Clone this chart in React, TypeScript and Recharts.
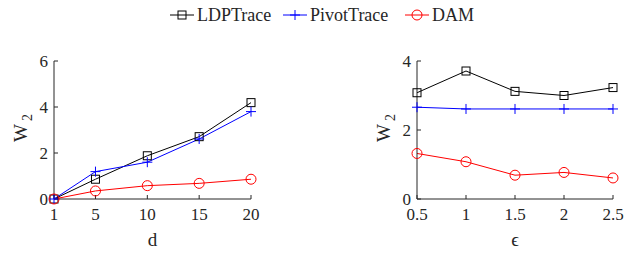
import { LineChart, Line, XAxis, YAxis, Label } from 'recharts'

// left panel: error vs dimension d
const dValues = [1, 5, 10, 15, 20]
const ldpByD = [0, 0.86, 1.88, 2.71, 4.19]
const pivotByD = [0, 1.19, 1.6, 2.61, 3.8]
const damByD = [0, 0.35, 0.58, 0.68, 0.86]

// right panel: error vs privacy budget epsilon
const epsValues = [0.5, 1, 1.5, 2, 2.5]
const ldpByEps = [3.08, 3.71, 3.12, 3.0, 3.23]
const pivotByEps = [2.66, 2.61, 2.61, 2.61, 2.61]
const damByEps = [1.32, 1.08, 0.69, 0.77, 0.61]

const seriesNames = ['LDPTrace', 'PivotTrace', 'DAM']

const FONT = "'Liberation Serif', 'Times New Roman', Times, serif"
const AXIS = '#262626'
const COLORS = { LDPTrace: '#000000', PivotTrace: '#0000ff', DAM: '#ff0000' }

const dData = dValues.map((x, i) => ({ x, LDPTrace: ldpByD[i], PivotTrace: pivotByD[i], DAM: damByD[i] }))
const epsData = epsValues.map((x, i) => ({ x, LDPTrace: ldpByEps[i], PivotTrace: pivotByEps[i], DAM: damByEps[i] }))

function Marker({ name, cx, cy }: { name: string; cx: number; cy: number }) {
  const c = COLORS[name as keyof typeof COLORS]
  if (name === 'LDPTrace') {
    return <rect x={cx - 4} y={cy - 4} width={8} height={8} fill="none" stroke={c} strokeWidth={1} />
  }
  if (name === 'PivotTrace') {
    return (
      <g stroke={c} strokeWidth={1}>
        <line x1={cx - 5} y1={cy} x2={cx + 5} y2={cy} />
        <line x1={cx} y1={cy - 5} x2={cx} y2={cy + 5} />
      </g>
    )
  }
  return <circle cx={cx} cy={cy} r={5} fill="none" stroke={c} strokeWidth={1} />
}

const makeDot = (name: string) => (p: any) => (
  <g key={`${name}-${p.index}`}>
    <Marker name={name} cx={p.cx} cy={p.cy} />
  </g>
)

const tickStyle = { fontSize: 17, fill: AXIS, fontFamily: FONT, style: { fontFamily: FONT } }

function YLabel({ x, y }: { x: number; y: number }) {
  return (
    <text transform={`translate(${x},${y}) rotate(-90)`} textAnchor="middle" fontSize={19} fill={AXIS} fontFamily={FONT} style={{ fontFamily: FONT }}>
      W<tspan dx={3} dy={5} fontSize={14}>2</tspan>
    </text>
  )
}

function Panel({
  data, xTicks, yTicks, yMax, xLabel, width, margin, yAxisWidth, yLabelX,
}: {
  data: any[]; xTicks: number[]; yTicks: number[]; yMax: number; xLabel: string
  width: number; margin: any; yAxisWidth: number; yLabelX: number
}) {
  return (
    <LineChart width={width} height={253} data={data} margin={margin}>
      <XAxis
        dataKey="x"
        type="number"
        domain={[xTicks[0], xTicks[xTicks.length - 1]]}
        ticks={xTicks}
        height={54}
        tick={tickStyle}
        tickSize={-4}
        tickMargin={13}
        axisLine={{ stroke: AXIS }}
        tickLine={{ stroke: AXIS }}
      >
        <Label
          content={({ viewBox }: any) => (
            <text x={viewBox.x + viewBox.width / 2} y={246} textAnchor="middle" fontSize={19} fill={AXIS} fontFamily={FONT} style={{ fontFamily: FONT }}>
              {xLabel}
            </text>
          )}
        />
      </XAxis>
      <YAxis
        type="number"
        domain={[0, yMax]}
        ticks={yTicks}
        width={yAxisWidth}
        tick={tickStyle}
        tickSize={-4}
        tickMargin={10}
        axisLine={{ stroke: AXIS }}
        tickLine={{ stroke: AXIS }}
      >
        <Label content={() => <YLabel x={yLabelX} y={128} />} />
      </YAxis>
      {seriesNames.map((name) => (
        <Line
          key={name}
          dataKey={name}
          stroke={COLORS[name as keyof typeof COLORS]}
          strokeWidth={1}
          dot={makeDot(name)}
          activeDot={false}
          isAnimationActive={false}
        />
      ))}
    </LineChart>
  )
}

const legendX = [170, 283, 405]

export default function App() {
  return (
    <div style={{ position: 'absolute', left: 0, top: 0, width: 626, height: 253, background: '#fff' }}>
      <svg width={626} height={30} style={{ position: 'absolute', left: 0, top: 0 }}>
        {seriesNames.map((name, i) => {
          const x = legendX[i]
          const c = COLORS[name as keyof typeof COLORS]
          return (
            <g key={name}>
              <line x1={x} y1={15} x2={x + 24} y2={15} stroke={c} strokeWidth={1} />
              <Marker name={name} cx={x + 12} cy={15} />
              <text x={x + 27} y={21} fontSize={18} fill={AXIS} fontFamily={FONT} style={{ fontFamily: FONT }}>{name}</text>
            </g>
          )
        })}
      </svg>
      <div style={{ position: 'absolute', left: 0, top: 0 }}>
        <Panel
          data={dData}
          xTicks={dValues}
          yTicks={[0, 2, 4, 6]}
          yMax={6}
          xLabel="d"
          width={320}
          margin={{ top: 61, right: 69, bottom: 0, left: 0 }}
          yAxisWidth={54}
          yLabelX={27}
        />
      </div>
      <div style={{ position: 'absolute', left: 320, top: 0 }}>
        <Panel
          data={epsData}
          xTicks={epsValues}
          yTicks={[0, 2, 4]}
          yMax={4}
          xLabel="ϵ"
          width={306}
          margin={{ top: 61, right: 13, bottom: 0, left: 57 }}
          yAxisWidth={40}
          yLabelX={70}
        />
      </div>
    </div>
  )
}
